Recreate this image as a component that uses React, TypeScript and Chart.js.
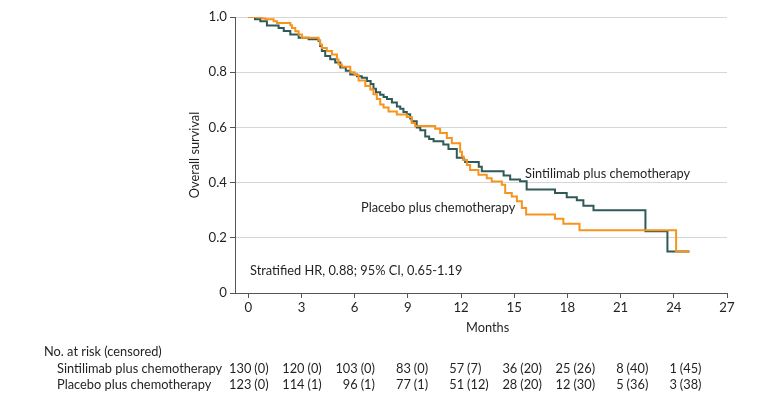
import React, { useEffect, useRef } from "react";
import { Chart, registerables } from "chart.js";

Chart.register(...registerables);

// Kaplan-Meier step data (months, overall survival after the step)
const sintiTimes = [0, 0.38, 0.68, 1.05, 1.71, 2.0, 2.37, 2.84, 3.4, 3.96, 4.05, 4.15, 4.34, 4.62, 4.9, 5.19, 5.5, 5.75, 6.13, 6.4, 6.69, 6.9, 7.06, 7.2, 7.44, 7.63, 7.82, 8.1, 8.38, 8.57, 8.75, 8.94, 9.13, 9.22, 9.5, 9.7, 9.98, 10.2, 10.45, 11.0, 11.29, 11.76, 12.14, 12.23, 13.0, 13.17, 14.4, 14.77, 15.33, 15.7, 17.3, 17.96, 18.53, 18.9, 19.47, 22.4, 23.64, 24.88];
const sintiSurv = [1.0, 0.992, 0.985, 0.969, 0.96, 0.949, 0.937, 0.925, 0.919, 0.913, 0.895, 0.877, 0.859, 0.847, 0.835, 0.817, 0.805, 0.792, 0.785, 0.78, 0.768, 0.757, 0.74, 0.727, 0.718, 0.71, 0.703, 0.69, 0.676, 0.668, 0.656, 0.648, 0.632, 0.622, 0.6, 0.59, 0.567, 0.558, 0.55, 0.538, 0.522, 0.49, 0.483, 0.475, 0.457, 0.441, 0.426, 0.411, 0.405, 0.375, 0.362, 0.347, 0.336, 0.316, 0.3, 0.224, 0.15, 0.15];

const placeboTimes = [0, 0.77, 0.96, 1.43, 1.62, 2.37, 2.46, 2.65, 2.84, 3.03, 3.96, 4.05, 4.15, 4.43, 4.72, 5.0, 5.09, 5.28, 5.75, 6.0, 6.22, 6.6, 6.88, 7.06, 7.25, 7.44, 7.63, 7.91, 8.38, 8.94, 9.22, 9.41, 10.54, 10.82, 11.2, 11.48, 11.95, 12.05, 12.14, 12.33, 12.51, 12.98, 13.45, 13.73, 14.3, 14.49, 14.86, 15.15, 15.43, 15.67, 17.3, 17.77, 18.68, 24.13, 24.88];
const placeboSurv = [1.0, 0.995, 0.992, 0.985, 0.978, 0.97, 0.96, 0.948, 0.937, 0.925, 0.916, 0.9, 0.888, 0.877, 0.864, 0.846, 0.828, 0.82, 0.8, 0.79, 0.77, 0.75, 0.737, 0.72, 0.703, 0.683, 0.672, 0.658, 0.647, 0.638, 0.616, 0.605, 0.595, 0.58, 0.562, 0.543, 0.512, 0.495, 0.482, 0.464, 0.446, 0.428, 0.416, 0.404, 0.392, 0.362, 0.35, 0.332, 0.308, 0.284, 0.269, 0.251, 0.227, 0.15, 0.15];

// Axis ticks
const xTicks = [0, 3, 6, 9, 12, 15, 18, 21, 24, 27];
const yTicks = [0, 0.2, 0.4, 0.6, 0.8, 1.0];

// Number at risk table
const riskTimes = [0, 3, 6, 9, 12, 15, 18, 21, 24];
const sintiAtRisk = [130, 120, 103, 83, 57, 36, 25, 8, 1];
const sintiCensored = [0, 0, 0, 0, 7, 20, 26, 40, 45];
const placeboAtRisk = [123, 114, 96, 77, 51, 28, 12, 5, 3];
const placeboCensored = [0, 1, 1, 1, 12, 20, 30, 36, 38];

const sintiLabel = "Sintilimab plus chemotherapy";
const placeboLabel = "Placebo plus chemotherapy";
const hrText = "Stratified HR, 0.88; 95% CI, 0.65-1.19";

const TEAL = "#2f5a58";
const ORANGE = "#f7941d";
const TEXT = "#231f20";
const FONT = "Lato, 'Noto Sans', sans-serif";
const FS = 12.8;
const TICK_FS = 13.2;

export default function App() {
  const ref = useRef<HTMLCanvasElement | null>(null);

  useEffect(() => {
    const canvas = ref.current;
    if (!canvas) return;

    const textPlugin = {
      id: "kmText",
      afterDraw(chart: any) {
        const ctx = chart.ctx as CanvasRenderingContext2D;
        const xs = chart.scales.x;
        const area = chart.chartArea;
        ctx.save();
        ctx.fillStyle = TEXT;
        ctx.font = `${FS}px ${FONT}`;
        ctx.textBaseline = "middle";

        ctx.textAlign = "left";
        ctx.fillText(sintiLabel, 525, 174);
        ctx.fillText(placeboLabel, 361, 208);
        ctx.fillText(hrText, 250, 271);

        ctx.textAlign = "center";
        ctx.fillText("Months", xs.getPixelForValue(13.5), 328);

        ctx.save();
        ctx.translate(195, (area.top + area.bottom) / 2);
        ctx.rotate(-Math.PI / 2);
        ctx.fillText("Overall survival", 0, 0);
        ctx.restore();

        ctx.textAlign = "left";
        ctx.fillText("No. at risk (censored)", 44, 352);
        ctx.fillText(sintiLabel, 57, 369);
        ctx.fillText(placeboLabel, 57, 385);

        const rows: [number[], number[], number][] = [
          [sintiAtRisk, sintiCensored, 369],
          [placeboAtRisk, placeboCensored, 385],
        ];
        rows.forEach(([risk, cens, y]) => {
          riskTimes.forEach((t, i) => {
            const anchor = xs.getPixelForValue(t) + 6;
            ctx.textAlign = "right";
            ctx.fillText(String(risk[i]), anchor - 3, y);
            ctx.textAlign = "left";
            ctx.fillText(`(${cens[i]})`, anchor, y);
          });
        });
        ctx.restore();
      },
    };

    const chart = new Chart(canvas, {
      type: "line",
      data: {
        datasets: [
          {
            label: placeboLabel,
            data: placeboTimes.map((t, i) => ({ x: t, y: placeboSurv[i] })),
            borderColor: ORANGE,
            borderWidth: 2,
            pointRadius: 0,
            stepped: "before",
            fill: false,
          },
          {
            label: sintiLabel,
            data: sintiTimes.map((t, i) => ({ x: t, y: sintiSurv[i] })),
            borderColor: TEAL,
            borderWidth: 2,
            pointRadius: 0,
            stepped: "before",
            fill: false,
          },
        ],
      },
      options: {
        responsive: false,
        animation: false,
        devicePixelRatio: 1,
        layout: { padding: { left: 0, top: 17, right: 53, bottom: 0 } },
        plugins: {
          legend: { display: false },
          tooltip: { enabled: false },
        },
        scales: {
          x: {
            type: "linear",
            position: "bottom",
            min: -0.75,
            max: 27,
            afterBuildTicks: (scale: any) => {
              scale.ticks = xTicks.map((v) => ({ value: v }));
            },
            afterFit: (scale: any) => {
              scale.height = 112;
            },
            ticks: {
              color: TEXT,
              font: { family: FONT, size: TICK_FS },
              padding: 2,
              maxRotation: 0,
              autoSkip: false,
            },
            grid: {
              drawOnChartArea: false,
              drawTicks: true,
              tickLength: 5,
              tickColor: "#555",
            },
            border: { color: "#555", width: 1 },
          },
          y: {
            type: "linear",
            min: 0,
            max: 1,
            afterBuildTicks: (scale: any) => {
              scale.ticks = yTicks.map((v) => ({ value: v }));
            },
            afterFit: (scale: any) => {
              scale.width = 235;
            },
            ticks: {
              color: TEXT,
              font: { family: FONT, size: TICK_FS },
              padding: 3,
              callback: (v: any) => (Number(v) === 0 ? "0" : Number(v).toFixed(1)),
            },
            grid: {
              color: "#d6d6d6",
              lineWidth: 1,
              drawTicks: true,
              tickLength: 5,
              tickColor: "#555",
            },
            border: { color: "#555", width: 1 },
          },
        },
      },
      plugins: [textPlugin],
    });

    return () => chart.destroy();
  }, []);

  return (
    <div style={{ position: "fixed", left: 0, top: 0, width: 780, height: 405, background: "#fff" }}>
      <canvas ref={ref} width={780} height={405} style={{ width: 780, height: 405 }} />
    </div>
  );
}
